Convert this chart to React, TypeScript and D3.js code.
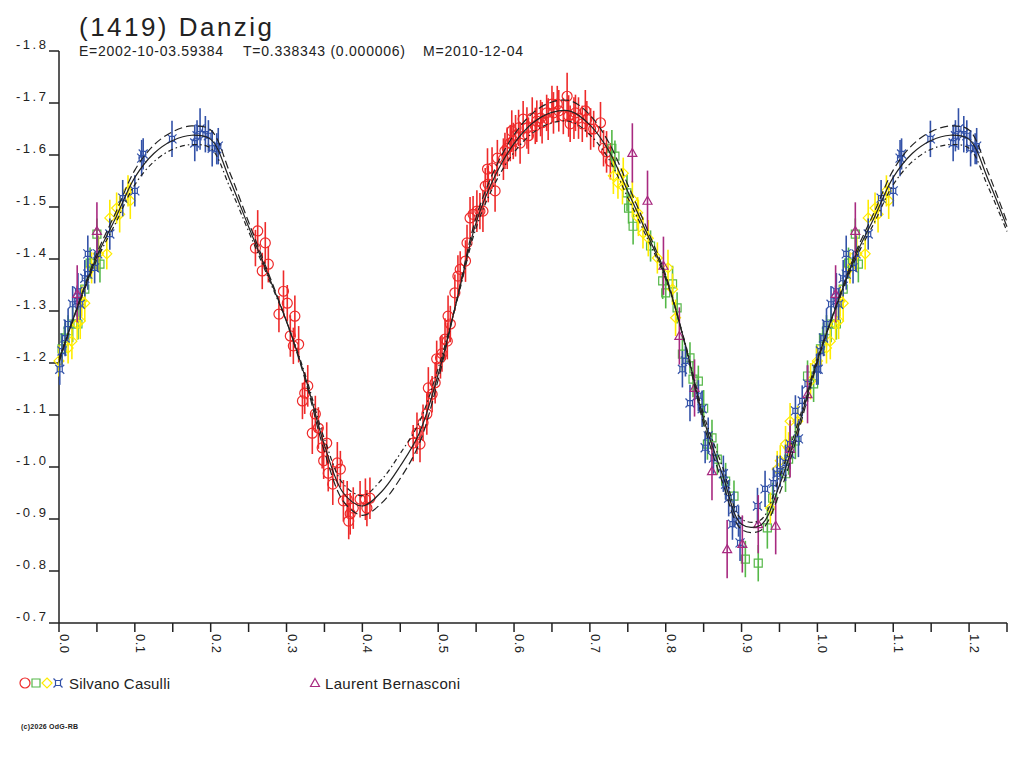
import * as d3 from "d3";

const width = 1024;
const height = 768;
const font = "'Liberation Sans', Arial, sans-serif";

const title = "(1419) Danzig";
const subtitle = ["E=2002-10-03.59384", "T=0.338343 (0.000006)", "M=2010-12-04"];
const observers = ["Silvano Casulli", "Laurent Bernasconi"];
const copyright = "(c)2026 OdG-RB";

const yTicks = [-1.8, -1.7, -1.6, -1.5, -1.4, -1.3, -1.2, -1.1, -1.0, -0.9, -0.8, -0.7];
const xMajor = [0, 0.1, 0.2, 0.3, 0.4, 0.5, 0.6, 0.7, 0.8, 0.9, 1.0, 1.1, 1.2];
const xMinor = [0.05, 0.15, 0.25, 0.35, 0.45, 0.55, 0.65, 0.75, 0.85, 0.95, 1.05, 1.15, 1.25];

// fit curves, sampled every 0.025 in phase from 0 to 1
const fitStep = 0.025;
const fitMid = [
  -1.205, -1.31, -1.405, -1.48, -1.557, -1.603, -1.628, -1.638, -1.63, -1.553,
  -1.462, -1.372, -1.28, -1.171, -1.042, -0.95, -0.925, -0.952, -1.002, -1.065,
  -1.178, -1.323, -1.47, -1.56, -1.622, -1.662, -1.682, -1.684, -1.658, -1.608,
  -1.53, -1.45, -1.365, -1.24, -1.092, -0.985, -0.89, -0.888, -0.965, -1.078, -1.205,
];
const fitHi = [
  -1.201, -1.312, -1.411, -1.49, -1.571, -1.619, -1.645, -1.656, -1.648, -1.567,
  -1.471, -1.377, -1.28, -1.166, -1.03, -0.934, -0.907, -0.93, -0.978, -1.045,
  -1.168, -1.325, -1.48, -1.574, -1.639, -1.681, -1.702, -1.704, -1.677, -1.624,
  -1.543, -1.459, -1.369, -1.238, -1.083, -0.97, -0.88, -0.878, -0.949, -1.068, -1.201,
];
const fitLo = [
  -1.209, -1.308, -1.399, -1.47, -1.543, -1.587, -1.611, -1.62, -1.613, -1.539,
  -1.453, -1.367, -1.28, -1.176, -1.054, -0.967, -0.945, -0.975, -1.026, -1.086,
  -1.19, -1.321, -1.46, -1.546, -1.605, -1.643, -1.662, -1.664, -1.639, -1.592,
  -1.518, -1.442, -1.361, -1.242, -1.101, -1.0, -0.9, -0.898, -0.981, -1.088, -1.209,
];

// observations: [phase, magnitude, error]
type Obs = [number, number, number];

const casulliRed: Obs[] = [
  [0.259, -1.421, 0.035], [0.262, -1.454, 0.04], [0.268, -1.377, 0.035], [0.272, -1.431, 0.04],
  [0.276, -1.39, 0.035], [0.29, -1.294, 0.035], [0.296, -1.338, 0.04], [0.301, -1.315, 0.035],
  [0.305, -1.252, 0.04], [0.309, -1.233, 0.035], [0.311, -1.29, 0.04], [0.316, -1.236, 0.035],
  [0.321, -1.127, 0.035], [0.324, -1.142, 0.04], [0.328, -1.156, 0.04], [0.334, -1.065, 0.04],
  [0.338, -1.102, 0.035], [0.342, -1.075, 0.04], [0.347, -1.037, 0.04], [0.349, -1.012, 0.035],
  [0.353, -1.046, 0.04], [0.355, -0.988, 0.035], [0.361, -0.967, 0.04], [0.367, -1.008, 0.04],
  [0.371, -0.996, 0.035], [0.375, -0.935, 0.04], [0.38, -0.938, 0.035], [0.382, -0.896, 0.035],
  [0.384, -0.91, 0.04], [0.388, -0.921, 0.04], [0.397, -0.938, 0.035], [0.404, -0.938, 0.04],
  [0.406, -0.921, 0.035], [0.41, -0.94, 0.04], [0.467, -1.046, 0.035], [0.472, -1.065, 0.04],
  [0.476, -1.044, 0.035], [0.48, -1.085, 0.035], [0.485, -1.102, 0.04], [0.487, -1.152, 0.04],
  [0.492, -1.14, 0.035], [0.496, -1.162, 0.04], [0.498, -1.208, 0.035], [0.503, -1.21, 0.04],
  [0.505, -1.218, 0.035], [0.509, -1.246, 0.04], [0.512, -1.242, 0.035], [0.513, -1.29, 0.04],
  [0.516, -1.275, 0.035], [0.522, -1.335, 0.035], [0.526, -1.367, 0.04], [0.529, -1.38, 0.035],
  [0.536, -1.396, 0.04], [0.538, -1.431, 0.035], [0.542, -1.479, 0.04], [0.546, -1.486, 0.035],
  [0.551, -1.492, 0.04], [0.555, -1.492, 0.035], [0.559, -1.492, 0.04], [0.562, -1.54, 0.035],
  [0.565, -1.573, 0.04], [0.566, -1.544, 0.035], [0.571, -1.575, 0.04], [0.575, -1.531, 0.04],
  [0.578, -1.594, 0.035], [0.586, -1.592, 0.04], [0.588, -1.608, 0.035], [0.591, -1.613, 0.04],
  [0.595, -1.623, 0.035], [0.597, -1.646, 0.04], [0.599, -1.627, 0.035], [0.602, -1.637, 0.04],
  [0.606, -1.652, 0.035], [0.608, -1.623, 0.04], [0.612, -1.669, 0.035], [0.617, -1.652, 0.04],
  [0.619, -1.637, 0.035], [0.624, -1.671, 0.04], [0.628, -1.656, 0.035], [0.63, -1.665, 0.04],
  [0.635, -1.671, 0.035], [0.637, -1.662, 0.04], [0.643, -1.681, 0.035], [0.645, -1.669, 0.04],
  [0.65, -1.698, 0.035], [0.652, -1.681, 0.04], [0.657, -1.698, 0.035], [0.659, -1.685, 0.04],
  [0.665, -1.675, 0.035], [0.67, -1.713, 0.045], [0.672, -1.675, 0.04], [0.674, -1.66, 0.035],
  [0.679, -1.671, 0.04], [0.681, -1.681, 0.035], [0.685, -1.671, 0.04], [0.69, -1.66, 0.035],
  [0.694, -1.685, 0.04], [0.696, -1.669, 0.035], [0.701, -1.65, 0.04], [0.705, -1.65, 0.035],
  [0.714, -1.662, 0.04], [0.718, -1.613, 0.035], [0.722, -1.606, 0.04], [0.727, -1.588, 0.035],
];

const casulliGreen: Obs[] = [
  [0.004, -1.227, 0.03], [0.008, -1.248, 0.03], [0.012, -1.262, 0.03], [0.018, -1.275, 0.035],
  [0.025, -1.275, 0.03], [0.034, -1.342, 0.035], [0.041, -1.392, 0.03], [0.05, -1.448, 0.03],
  [0.054, -1.39, 0.035], [0.729, -1.613, 0.035], [0.733, -1.598, 0.03], [0.749, -1.527, 0.035],
  [0.751, -1.498, 0.03], [0.757, -1.463, 0.035], [0.78, -1.425, 0.03], [0.796, -1.358, 0.035],
  [0.8, -1.335, 0.03], [0.809, -1.352, 0.035], [0.815, -1.306, 0.03], [0.822, -1.217, 0.035],
  [0.832, -1.21, 0.03], [0.836, -1.169, 0.035], [0.843, -1.165, 0.03], [0.85, -1.113, 0.035],
  [0.855, -1.044, 0.03], [0.861, -1.056, 0.035], [0.868, -1.015, 0.03], [0.879, -0.973, 0.035],
  [0.89, -0.944, 0.03], [0.905, -0.823, 0.035], [0.922, -0.815, 0.035], [0.934, -0.883, 0.04],
  [0.941, -0.94, 0.03], [0.958, -0.987, 0.035], [0.962, -1.015, 0.03], [0.971, -1.05, 0.035],
  [0.987, -1.175, 0.03], [0.995, -1.16, 0.035],
];

const casulliYellow: Obs[] = [
  [0.0, -1.204, 0.03], [0.012, -1.229, 0.03], [0.017, -1.242, 0.035], [0.024, -1.275, 0.03],
  [0.028, -1.281, 0.035], [0.03, -1.319, 0.03], [0.034, -1.315, 0.035], [0.043, -1.383, 0.03],
  [0.052, -1.41, 0.035], [0.063, -1.41, 0.03], [0.067, -1.479, 0.035], [0.076, -1.498, 0.03],
  [0.08, -1.486, 0.035], [0.091, -1.531, 0.03], [0.094, -1.512, 0.035], [0.731, -1.56, 0.035],
  [0.737, -1.546, 0.03], [0.743, -1.54, 0.035], [0.744, -1.565, 0.03], [0.756, -1.515, 0.035],
  [0.763, -1.489, 0.03], [0.764, -1.479, 0.035], [0.77, -1.45, 0.03], [0.777, -1.44, 0.035],
  [0.789, -1.402, 0.03], [0.803, -1.383, 0.035], [0.809, -1.342, 0.03], [0.813, -1.287, 0.035],
  [0.938, -0.921, 0.03], [0.947, -0.996, 0.035], [0.951, -1.012, 0.03], [0.958, -1.044, 0.035],
  [0.962, -1.037, 0.03], [0.964, -1.088, 0.035], [0.974, -1.088, 0.03], [0.991, -1.165, 0.035],
  [0.999, -1.198, 0.03],
];

const casulliBlue: Obs[] = [
  [0.001, -1.188, 0.03], [0.004, -1.223, 0.03], [0.008, -1.248, 0.035], [0.012, -1.275, 0.03],
  [0.018, -1.313, 0.035], [0.024, -1.319, 0.03], [0.025, -1.338, 0.035], [0.028, -1.313, 0.03],
  [0.034, -1.363, 0.035], [0.038, -1.371, 0.03], [0.038, -1.41, 0.035], [0.047, -1.383, 0.03],
  [0.051, -1.41, 0.035], [0.067, -1.448, 0.03], [0.084, -1.517, 0.035], [0.1, -1.531, 0.03],
  [0.109, -1.594, 0.035], [0.111, -1.602, 0.03], [0.149, -1.631, 0.035], [0.179, -1.623, 0.035],
  [0.182, -1.637, 0.03], [0.186, -1.65, 0.04], [0.193, -1.64, 0.035], [0.197, -1.637, 0.03],
  [0.202, -1.613, 0.035], [0.208, -1.612, 0.03], [0.21, -1.617, 0.035], [0.822, -1.188, 0.035],
  [0.826, -1.204, 0.03], [0.832, -1.123, 0.035], [0.843, -1.137, 0.03], [0.848, -1.112, 0.035],
  [0.852, -1.037, 0.03], [0.856, -1.06, 0.035], [0.863, -1.017, 0.03], [0.876, -0.987, 0.035],
  [0.879, -0.967, 0.03], [0.883, -0.94, 0.035], [0.888, -0.89, 0.03], [0.89, -0.919, 0.035],
  [0.896, -0.896, 0.03], [0.898, -0.854, 0.035], [0.921, -0.925, 0.035], [0.931, -0.958, 0.035],
  [0.942, -0.969, 0.03], [0.947, -0.987, 0.035], [0.951, -0.992, 0.03], [0.958, -1.008, 0.035],
  [0.964, -1.025, 0.03], [0.964, -1.044, 0.035], [0.971, -1.108, 0.03], [0.975, -1.054, 0.035],
  [0.98, -1.127, 0.03], [0.987, -1.16, 0.035], [0.999, -1.188, 0.03],
];

const bernasconi: Obs[] = [
  [0.024, -1.333, 0.055], [0.05, -1.454, 0.055], [0.756, -1.604, 0.057], [0.776, -1.512, 0.058],
  [0.797, -1.387, 0.056], [0.818, -1.252, 0.055], [0.838, -1.152, 0.055], [0.861, -0.992, 0.056],
  [0.881, -0.842, 0.056], [0.901, -0.852, 0.055], [0.922, -0.89, 0.056], [0.945, -0.887, 0.055],
  [0.964, -1.035, 0.055], [0.987, -1.14, 0.056],
];

const colors = {
  red: "#ee2a2a",
  green: "#55b848",
  yellow: "#ffec00",
  blue: "#3352a8",
  purple: "#a82a80",
  ink: "#222",
};

const x = d3.scaleLinear().domain([0, 1.25]).range([59, 1007]);
const y = d3.scaleLinear().domain([-1.8, -0.7]).range([51, 623]);

// phase-fold: show phase 0..0.25 again after 1.0
const fold = (pts: Obs[]): Obs[] =>
  pts.concat(pts.filter(d => d[0] + 1 <= 1.25).map(d => [d[0] + 1, d[1], d[2]] as Obs));

const fitPoints = (vals: number[]): [number, number][] => {
  const pts = vals.map((v, i) => [i * fitStep, v] as [number, number]);
  const extra = pts.filter(p => p[0] > 0 && p[0] + 1 <= 1.25 + 1e-9).map(p => [p[0] + 1, p[1]] as [number, number]);
  return pts.concat(extra);
};

const line = d3
  .line<[number, number]>()
  .x(d => x(d[0]))
  .y(d => y(d[1]))
  .curve(d3.curveCatmullRom);

const symbols: Record<string, string> = {
  circle: "M-5,0A5,5 0 1,0 5,0A5,5 0 1,0 -5,0Z",
  square: "M-4,-4H4V4H-4Z",
  diamond: "M0,-5L5,0L0,5L-5,0Z",
  star: "M-2.5,-2.5H2.5V2.5H-2.5Z M-2.5,-2.5L-4.5,-4.5 M2.5,-2.5L4.5,-4.5 M2.5,2.5L4.5,4.5 M-2.5,2.5L-4.5,4.5",
  triangle: "M0,-4.5L4.5,3.5H-4.5Z",
};

const series = [
  { data: casulliRed, color: colors.red, symbol: "circle" },
  { data: casulliGreen, color: colors.green, symbol: "square" },
  { data: casulliYellow, color: colors.yellow, symbol: "diamond" },
  { data: casulliBlue, color: colors.blue, symbol: "star" },
  { data: bernasconi, color: colors.purple, symbol: "triangle" },
];

const fmt = (v: number) => v.toFixed(1);

export default function App() {
  return (
    <svg
      width={width}
      height={height}
      style={{ position: "absolute", left: 0, top: 0, background: "#fff" }}
      fontFamily={font}
    >
      <text x={79} y={36} fontSize={26} fill={colors.ink} textLength={193} lengthAdjust="spacing">
        {title}
      </text>
      <text x={79} y={56} fontSize={14} fill={colors.ink} textLength={144} lengthAdjust="spacing">
        {subtitle[0]}
      </text>
      <text x={243} y={56} fontSize={14} fill={colors.ink} textLength={162} lengthAdjust="spacing">
        {subtitle[1]}
      </text>
      <text x={423} y={56} fontSize={14} fill={colors.ink} textLength={100} lengthAdjust="spacing">
        {subtitle[2]}
      </text>

      {/* axes */}
      <g stroke={colors.ink} strokeWidth={1.5} fill="none">
        <line x1={x(0)} x2={x(0)} y1={y(-1.8)} y2={y(-0.7)} />
        <line x1={x(0)} x2={x(1.25)} y1={y(-0.7)} y2={y(-0.7)} />
        {yTicks.map(t => (
          <line key={"yt" + t} x1={x(0) - 10} x2={x(0)} y1={y(t)} y2={y(t)} />
        ))}
        {xMajor.concat(xMinor).map(t => (
          <line key={"xt" + t} x1={x(t)} x2={x(t)} y1={y(-0.7)} y2={y(-0.7) + 9} />
        ))}
      </g>
      {yTicks.map(t => (
        <text key={"yl" + t} x={16} y={y(t) - 2} fontSize={13} fill={colors.ink} textLength={30} lengthAdjust="spacing">
          {fmt(t)}
        </text>
      ))}
      {xMajor.map(t => (
        <text
          key={"xl" + t}
          transform={`translate(${x(t) + 1},${y(-0.7) + 11}) rotate(90)`}
          fontSize={13}
          fill={colors.ink}
          textLength={19}
          lengthAdjust="spacing"
        >
          {fmt(t)}
        </text>
      ))}

      {/* observations */}
      {series.map((s, si) => (
        <g key={"s" + si} stroke={s.color} fill="none">
          {fold(s.data).map((d, i) => (
            <g key={i}>
              <line x1={x(d[0])} x2={x(d[0])} y1={y(d[1] - d[2])} y2={y(d[1] + d[2])} strokeWidth={1.6} />
              <path d={symbols[s.symbol]} transform={`translate(${x(d[0])},${y(d[1])})`} strokeWidth={1.2} />
            </g>
          ))}
        </g>
      ))}

      {/* fit curves */}
      <g fill="none" stroke={colors.ink} strokeWidth={1.2}>
        <path d={line(fitPoints(fitMid)) ?? ""} />
        <path d={line(fitPoints(fitHi)) ?? ""} strokeDasharray="8,4" />
        <path d={line(fitPoints(fitLo)) ?? ""} strokeDasharray="5,3,1.5,3" />
      </g>

      {/* legend */}
      <g fill="none" strokeWidth={1.2}>
        <path d={symbols.circle} transform="translate(25,683)" stroke={colors.red} />
        <path d={symbols.square} transform="translate(36,683)" stroke={colors.green} />
        <path d={symbols.diamond} transform="translate(47,683)" stroke={colors.yellow} />
        <path d={symbols.star} transform="translate(58,683)" stroke={colors.blue} />
        <path d={symbols.triangle} transform="translate(315,683)" stroke={colors.purple} />
      </g>
      <text x={69} y={689} fontSize={15} fill={colors.ink} textLength={101} lengthAdjust="spacing">
        {observers[0]}
      </text>
      <text x={325} y={689} fontSize={15} fill={colors.ink} textLength={135} lengthAdjust="spacing">
        {observers[1]}
      </text>
      <text x={21} y={729} fontSize={7} fontWeight="bold" fill={colors.ink} textLength={57} lengthAdjust="spacing">
        {copyright}
      </text>
    </svg>
  );
}
